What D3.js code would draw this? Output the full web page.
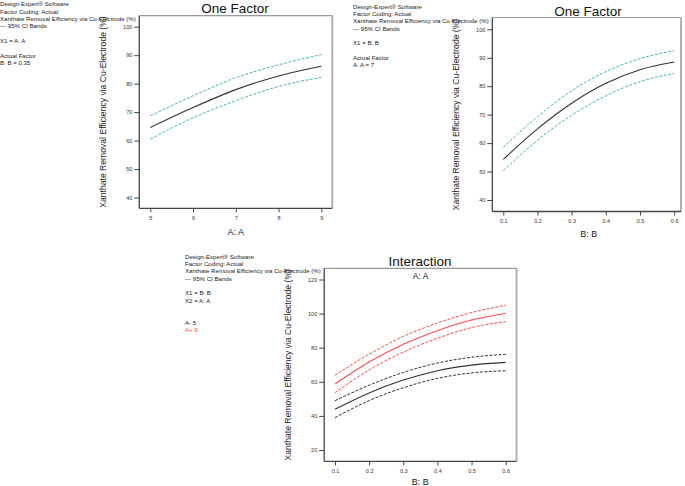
<!DOCTYPE html>
<html><head><meta charset="utf-8">
<script src="https://cdn.jsdelivr.net/npm/d3@7"></script>
<style>body{margin:0;background:#fff}svg{display:block;font-family:"Liberation Sans",Arial,sans-serif}</style>
</head><body><svg id="c" width="685" height="486"></svg>
<script>
// ---- data ----
const yLabel = "Xanthate Removal Efficiency via Cu-Electrode (%)";
// Panel 1: One Factor, A varies, B = 0.35
const p1X = [5, 6, 7, 8, 9];
const p1Mean = [64.6, 71.6, 77.9, 82.7, 86.1];
const p1Upper = [68.7, 75.7, 82.1, 86.6, 90.2];
const p1Lower = [60.5, 68.0, 74.0, 79.0, 82.2];
const p1XTicks = [5, 6, 7, 8, 9];
const p1YTicks = [40, 50, 60, 70, 80, 90, 100];
const p1Notes = ["Design-Expert® Software", "Factor Coding: Actual", yLabel, "— 95% CI Bands", "", "X1 = A: A", "", "Actual Factor", "B: B = 0.35"];
// Panel 2: One Factor, B varies, A = 7
const p2X = [0.1, 0.2, 0.3, 0.4, 0.5, 0.6];
const p2Mean = [54.3, 65.0, 74.0, 81.0, 85.8, 88.5];
const p2Upper = [58.5, 69.3, 78.4, 85.1, 89.7, 92.5];
const p2Lower = [50.3, 61.0, 69.8, 76.6, 81.6, 84.5];
const p2XTicks = [0.1, 0.2, 0.3, 0.4, 0.5, 0.6];
const p2YTicks = [40, 50, 60, 70, 80, 90, 100];
const p2Notes = ["Design-Expert® Software", "Factor Coding: Actual", yLabel, "— 95% CI Bands", "", "X1 = B: B", "", "Actual Factor", "A: A = 7"];
// Panel 3: Interaction
const p3X = [0.1, 0.2, 0.3, 0.4, 0.5, 0.6];
const p3LowMean = [43.9, 53.5, 61.0, 66.5, 69.8, 71.4];
const p3LowUpper = [48.9, 58.0, 65.5, 71.0, 74.4, 76.1];
const p3LowLower = [39.0, 49.0, 56.5, 62.0, 65.2, 66.5];
const p3HighMean = [58.7, 71.6, 82.0, 90.0, 96.2, 100.2];
const p3HighUpper = [63.8, 76.2, 86.6, 94.5, 100.6, 104.9];
const p3HighLower = [53.6, 67.0, 77.4, 85.5, 91.8, 95.3];
const p3XTicks = [0.1, 0.2, 0.3, 0.4, 0.5, 0.6];
const p3YTicks = [20, 40, 60, 80, 100, 120];
const p3Notes = ["Design-Expert® Software", "Factor Coding: Actual", yLabel, "— 95% CI Bands", "", "X1 = B: B", "X2 = A: A", "", ""];
const p3Legend = ["A- 5", "A+ 9"];

const svg = d3.select("#c");
const CYAN = "#3fb7bf", RED = "#ff4a4a", DARK = "#333";

function panel(o) {
  const g = svg.append("g");
  const x = d3.scaleLinear().domain(o.xDomain).range([o.x0, o.x1]);
  const y = d3.scaleLinear().domain(o.yDomain).range([o.y0, o.y1]);
  // frame
  g.append("line").attr("x1", o.L).attr("x2", o.R).attr("y1", o.T).attr("y2", o.T).attr("stroke", "#999").attr("stroke-width", 1.2);
  g.append("line").attr("x1", o.R).attr("x2", o.R).attr("y1", o.T).attr("y2", o.B).attr("stroke", "#aaa").attr("stroke-width", 1.8);
  // axes
  const ax = d3.axisBottom(x).tickValues(o.xTicks).tickSize(4).tickSizeOuter(0).tickFormat(d3.format(o.xFmt));
  const ay = d3.axisLeft(y).tickValues(o.yTicks).tickSize(5).tickSizeOuter(0);
  const gx = g.append("g").attr("transform", `translate(0,${o.B})`).call(ax);
  const gy = g.append("g").attr("transform", `translate(${o.L},0)`).call(ay);
  gx.select(".domain").attr("d", `M${o.L},0H${o.R}`).attr("stroke", "#444").attr("stroke-width", 1.3);
  gy.select(".domain").attr("d", `M0,${o.T}V${o.B}`).attr("stroke", "#444").attr("stroke-width", 1.3);
  [gx, gy].forEach(a => { a.selectAll(".tick line").attr("stroke", "#444"); a.selectAll("text").attr("font-size", 5.5).attr("fill", "#333").attr("font-family", "Liberation Sans, Arial"); });
  gx.selectAll("text").attr("dy", "0.71em").attr("y", 8);
  gy.selectAll("text").attr("x", -7);
  // titles
  g.append("text").attr("x", o.titleX).attr("y", o.titleY).attr("text-anchor", "middle").attr("font-size", 13.5).attr("fill", "#111").text(o.title);
  g.append("text").attr("x", (o.x0 + o.x1) / 2).attr("y", o.xLabY).attr("text-anchor", "middle").attr("font-size", 9).attr("fill", "#222").text(o.xLabel);
  g.append("text").attr("transform", `translate(${o.yLabX},${(o.T + o.B) / 2}) rotate(-90)`).attr("text-anchor", "middle").attr("font-size", 8.6).attr("fill", "#222").text(yLabel);
  // notes
  o.notes.forEach((t, i) => { if (t) g.append("text").attr("x", o.noteX).attr("y", o.noteY + i * 7.35).attr("font-size", 6.1).attr("fill", "#222").text(t); });
  // curves
  const line = (ys) => d3.line().x((d, i) => x(o.xs[i])).y(d => y(d)).curve(d3.curveMonotoneX)(ys);
  o.series.forEach(s => {
    g.append("path").attr("d", line(s.v)).attr("fill", "none").attr("stroke", s.c).attr("stroke-width", s.dash ? 1 : 1.1).attr("stroke-dasharray", s.dash ? "3,1.5" : null);
  });
  return g;
}

panel({
  L: 139.3, R: 332.3, T: 15.7, B: 208.3,
  x0: 150.3, x1: 321.3, xDomain: [5, 9], y0: 197.5, y1: 26.7, yDomain: [40, 100],
  xTicks: p1XTicks, yTicks: p1YTicks, xFmt: "d",
  title: "One Factor", titleX: 235, titleY: 13, xLabel: "A: A", xLabY: 235, yLabX: 106,
  notes: p1Notes, noteX: 0, noteY: 6.3, xs: p1X,
  series: [{ v: p1Upper, c: CYAN, dash: true }, { v: p1Lower, c: CYAN, dash: true }, { v: p1Mean, c: DARK }]
});

panel({
  L: 492.3, R: 681, T: 17.5, B: 211.5,
  x0: 503.3, x1: 674.2, xDomain: [0.1, 0.6], y0: 200, y1: 29.3, yDomain: [40, 100],
  xTicks: p2XTicks, yTicks: p2YTicks, xFmt: ".1f",
  title: "One Factor", titleX: 588, titleY: 15.5, xLabel: "B: B", xLabY: 237, yLabX: 458.5,
  notes: p2Notes, noteX: 353, noteY: 8.6, xs: p2X,
  series: [{ v: p2Upper, c: CYAN, dash: true }, { v: p2Lower, c: CYAN, dash: true }, { v: p2Mean, c: DARK }]
});

const g3 = panel({
  L: 324.2, R: 516.5, T: 268.3, B: 461.3,
  x0: 335, x1: 505.7, xDomain: [0.1, 0.6], y0: 450, y1: 279.5, yDomain: [20, 120],
  xTicks: p3XTicks, yTicks: p3YTicks, xFmt: ".1f",
  title: "Interaction", titleX: 420, titleY: 265.5, xLabel: "B: B", xLabY: 484.5, yLabX: 290.5,
  notes: p3Notes, noteX: 185, noteY: 258.6, xs: p3X,
  series: [
    { v: p3HighUpper, c: RED, dash: true }, { v: p3HighLower, c: RED, dash: true }, { v: p3HighMean, c: RED },
    { v: p3LowUpper, c: DARK, dash: true }, { v: p3LowLower, c: DARK, dash: true }, { v: p3LowMean, c: DARK }
  ]
});
g3.append("text").attr("x", 420.5).attr("y", 279).attr("text-anchor", "middle").attr("font-size", 8.5).attr("fill", "#111").text("A: A");
g3.append("text").attr("x", 185).attr("y", 324.6).attr("font-size", 6.1).attr("fill", "#222").text(p3Legend[0]);
g3.append("text").attr("x", 185).attr("y", 332).attr("font-size", 6.1).attr("fill", RED).text(p3Legend[1]);
</script></body></html>
